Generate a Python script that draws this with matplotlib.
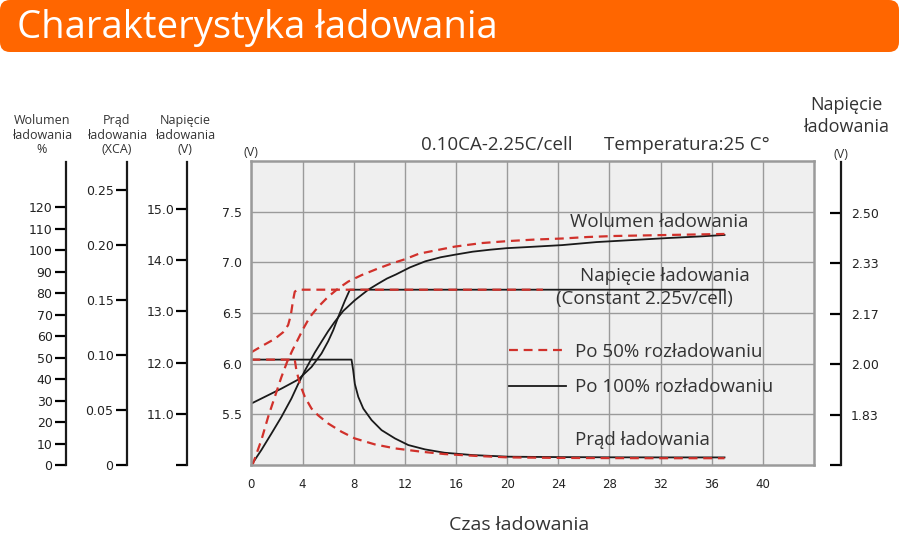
import matplotlib
matplotlib.use("Agg")
import matplotlib.pyplot as plt
from matplotlib.patches import FancyBboxPatch

W, H = 899, 534

# time axis (hours) and values, main scale in V (5.0 - 8.0)
vol100_h = [0, 0.78, 1.57, 2.35, 3.13, 3.66, 4.18, 4.96, 5.5, 6.0, 6.5, 7.18, 8.09, 9.14,
            9.92, 10.6, 11.3, 12.4, 13.6, 14.8, 15.9, 17.3, 18.7, 20.0, 21.5, 24.3, 27.0,
            29.8, 32.6, 35.0, 37.0]
vol100_v = [5.0, 5.148, 5.311, 5.475, 5.656, 5.80, 5.93, 6.11, 6.22, 6.32, 6.41, 6.52, 6.626,
            6.73, 6.79, 6.84, 6.88, 6.95, 7.01, 7.05, 7.075, 7.105, 7.125, 7.14, 7.15, 7.17,
            7.2, 7.22, 7.24, 7.255, 7.27]

vol50_h = [0, 0.13, 0.78, 1.31, 1.83, 2.35, 2.8, 3.2, 3.6, 4.05, 4.57, 5.22, 6.0, 6.79, 7.57,
           8.62, 9.92, 11.0, 12.0, 13.1, 14.5, 15.9, 18.0, 20.1, 22.2, 24.3, 26.3, 28.4,
           30.5, 32.6, 34.8, 37.0]
vol50_v = [5.0, 5.016, 5.246, 5.475, 5.672, 5.869, 6.02, 6.13, 6.23, 6.344, 6.46, 6.56, 6.66,
           6.742, 6.81, 6.874, 6.94, 6.99, 7.03, 7.085, 7.12, 7.155, 7.19, 7.21, 7.225, 7.235,
           7.25, 7.26, 7.265, 7.27, 7.275, 7.28]

volt100_h = [0, 1.04, 2.35, 3.66, 4.7, 5.48, 6.0, 6.4, 6.79, 7.31, 7.7, 37.0]
volt100_v = [5.607, 5.672, 5.754, 5.843, 5.967, 6.10, 6.22, 6.33, 6.46, 6.62, 6.73, 6.73]

volt50_h = [0, 0.91, 1.83, 2.48, 2.87, 3.08, 3.26, 3.39, 3.6, 22.8]
volt50_v = [6.113, 6.18, 6.245, 6.31, 6.38, 6.477, 6.626, 6.71, 6.73, 6.73]

cur100_h = [0, 7.83, 7.96, 8.09, 8.36, 8.75, 9.4, 10.18, 11.23, 12.27, 13.58, 15.1, 17.3,
            20.1, 24.0, 28.0, 32.0, 37.0]
cur100_v = [6.04, 6.04, 5.934, 5.80, 5.672, 5.557, 5.443, 5.344, 5.262, 5.197, 5.154, 5.121,
            5.098, 5.082, 5.078, 5.076, 5.075, 5.075]

cur50_h = [0, 3.39, 3.52, 3.79, 4.18, 4.7, 5.22, 6.0, 7.05, 8.09, 9.66, 11.23, 13.3, 15.1,
           17.5, 20.1, 24.0, 28.0, 32.0, 37.0]
cur50_v = [6.04, 6.04, 5.934, 5.80, 5.672, 5.557, 5.49, 5.41, 5.328, 5.262, 5.203, 5.164,
           5.131, 5.108, 5.09, 5.075, 5.07, 5.068, 5.067, 5.067]

x_ticks = [0, 4, 8, 12, 16, 20, 24, 28, 32, 36, 40]
main_ticks = [5.5, 6.0, 6.5, 7.0, 7.5]
vol_ticks = [0, 10, 20, 30, 40, 50, 60, 70, 80, 90, 100, 110, 120]
cur_ticks = [0, 0.05, 0.10, 0.15, 0.20, 0.25]
cur_labels = ["0", "0.05", "0.10", "0.15", "0.20", "0.25"]
v12_ticks = [11.0, 12.0, 13.0, 14.0, 15.0]
cell_ticks = [v / 3 for v in main_ticks]

RED = "#d1312b"
BLACK = "#1a1a1a"
TXT = "#333333"
TFONT = ["Open Sans", "DejaVu Sans"]
NFONT = ["DejaVu Sans"]
LBL = 13.5


def fx(x):
    return x / W


def fy(y):
    return 1 - y / H


fig = plt.figure(figsize=(W / 100, H / 100), dpi=100)

# orange title bar
bar = FancyBboxPatch((0.0, (H - 52) / 100), W / 100, 0.52,
                     boxstyle="round,pad=0,rounding_size=0.1",
                     transform=fig.dpi_scale_trans, fc="#ff6600", ec="none")
fig.patches.append(bar)
fig.text(fx(17), fy(28), "Charakterystyka ładowania", color="white", fontsize=27.5,
         family=TFONT, va="center", ha="left")

# main chart
ax = fig.add_axes([fx(251.4), fy(465), (814 - 251.4) / W, (465 - 161) / H])
ax.set_facecolor("#efefef")
ax.set_xlim(0, 44)
ax.set_ylim(5, 8)
ax.set_xticks(x_ticks)
ax.set_yticks(main_ticks)
ax.set_yticklabels(["%.1f" % v for v in main_ticks])
ax.grid(True, color="#9a9a9a", lw=1.0)
ax.set_axisbelow(True)
for s in ax.spines.values():
    s.set_color("#9a9a9a")
    s.set_linewidth(1.8)
ax.tick_params(axis="x", length=0, pad=9, labelsize=8.5, labelcolor="#222222")
ax.tick_params(axis="y", length=0, pad=7, labelsize=9, labelcolor="#222222")
for lab in ax.get_xticklabels() + ax.get_yticklabels():
    lab.set_family(NFONT)

dash = dict(color=RED, lw=1.6, ls=(0, (4, 2.6)))
solid = dict(color=BLACK, lw=1.3)
ax.plot(volt100_h, volt100_v, **solid)
ax.plot(cur100_h, cur100_v, **solid)
l100, = ax.plot(vol100_h, vol100_v, **solid)
ax.plot(volt50_h, volt50_v, **dash)
ax.plot(cur50_h, cur50_v, **dash)
l50, = ax.plot(vol50_h, vol50_v, **dash)

ax.text(31.9, 7.40, "Wolumen ładowania", fontsize=LBL, color=TXT, family=TFONT,
        ha="center", va="center")
ax.text(32.3, 6.87, "Napięcie ładowania", fontsize=LBL, color=TXT, family=TFONT,
        ha="center", va="center")
ax.text(30.7, 6.64, "(Constant 2.25v/cell)", fontsize=LBL, color=TXT, family=TFONT,
        ha="center", va="center")
ax.text(30.6, 5.25, "Prąd ładowania", fontsize=LBL, color=TXT, family=TFONT,
        ha="center", va="center")
ax.legend([l50, l100], ["Po 50% rozładowaniu", "Po 100% rozładowaniu"],
          loc="upper left", bbox_to_anchor=((509 - 251.4) / 562.6, (465 - 343) / 304),
          frameon=False, handlelength=3.05, handletextpad=0.45, labelspacing=0.92,
          borderaxespad=0, borderpad=0, prop={"family": TFONT, "size": LBL},
          labelcolor=TXT)

fig.text(fx(251), fy(153), "(V)", fontsize=9, color=TXT, family=TFONT, ha="center", va="center")
fig.text(fx(421), fy(145), "0.10CA-2.25C/cell", fontsize=13.5, color=TXT, family=TFONT,
         ha="left", va="center")
fig.text(fx(604), fy(145), "Temperatura:25 C°", fontsize=13.5, color=TXT, family=TFONT,
         ha="left", va="center")
fig.text(fx(519), fy(525), "Czas ładowania", fontsize=14, color=TXT, family=TFONT,
         ha="center", va="center")


def side_scale(xpx, ylim, ticks, labels, right=False):
    a = fig.add_axes([fx(xpx), fy(465), 0.0001, (465 - 162) / H])
    a.set_ylim(*ylim)
    a.set_xticks([])
    for k in ("top", "bottom", "right"):
        a.spines[k].set_visible(False)
    a.spines["left"].set_linewidth(1.6)
    a.spines["left"].set_color(BLACK)
    a.patch.set_visible(False)
    a.set_yticks(ticks)
    a.set_yticklabels(labels, family=NFONT)
    if right:
        a.tick_params(axis="y", left=True, right=False, labelleft=False, labelright=True,
                      direction="out", length=8, width=1.6, pad=-1, labelsize=9,
                      labelcolor="#222222")
    else:
        a.tick_params(axis="y", direction="out", length=8, width=1.6, pad=1.5, labelsize=9,
                      labelcolor="#222222")
    return a


side_scale(65.7, (0, 141.2), vol_ticks, [str(v) for v in vol_ticks])
side_scale(126.7, (0, 0.2758), cur_ticks, cur_labels)
side_scale(187.3, (10, 15.92), [10.0] + v12_ticks, [""] + ["%.1f" % v for v in v12_ticks])
side_scale(841, (5 / 3, 8 / 3), [5 / 3] + cell_ticks, [""] + ["%.2f" % v for v in cell_ticks],
           right=True)

hdr = dict(fontsize=9, color=TXT, family=TFONT, ha="center", va="center", linespacing=1.15)
fig.text(fx(41.7), fy(135), "Wolumen\nładowania\n%", **hdr)
fig.text(fx(116.7), fy(135), "Prąd\nładowania\n(XCA)", **hdr)
fig.text(fx(185), fy(135), "Napięcie\nładowania\n(V)", **hdr)
fig.text(fx(846), fy(116), "Napięcie\nładowania", fontsize=13, color=TXT, family=TFONT,
         ha="center", va="center", linespacing=1.35)
fig.text(fx(841), fy(155), "(V)", fontsize=9, color=TXT, family=TFONT, ha="center", va="center")

fig.savefig("out.png", dpi=100)
